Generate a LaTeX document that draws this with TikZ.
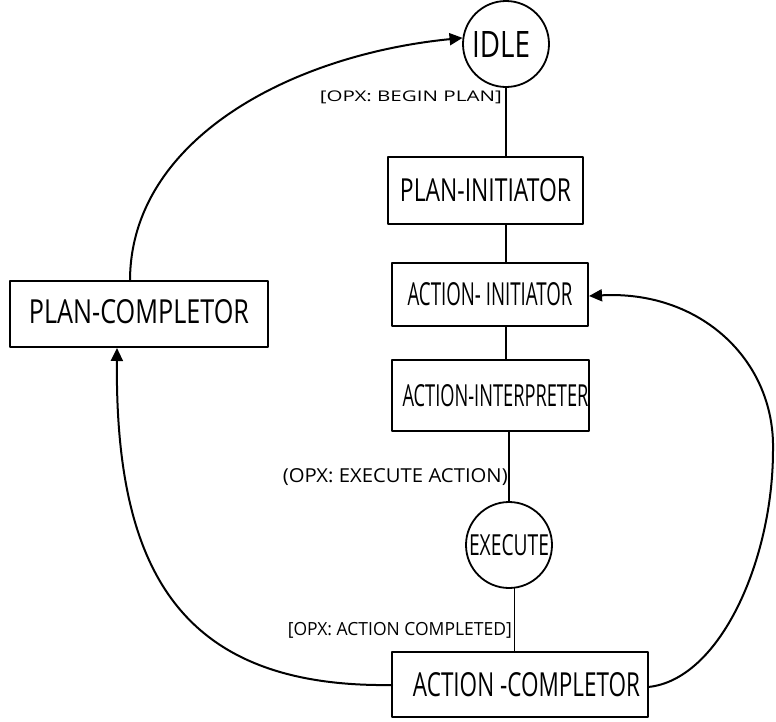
\documentclass[tikz,border=0pt]{standalone}
\usepackage{fontspec}
\usepackage{graphicx}
\setmainfont{Open Sans}
\usetikzlibrary{arrows.meta}
% text squeezed to a given width and cap height
\newcommand\capsbox[3]{\resizebox{#1pt}{#2pt}{#3}}
% text squeezed to a given width and total height (brackets included)
\newcommand\tagbox[3]{\resizebox*{#1pt}{#2pt}{#3}}
\begin{document}
\begin{tikzpicture}[x=1pt,y=-1pt,
  line cap=round, line join=round,
  stage/.style={draw, line width=1.8pt, inner sep=0pt},
  state/.style={draw, circle, line width=1.8pt, inner sep=0pt, minimum size=86pt},
  cond/.style={inner sep=0pt, anchor=east},
  link/.style={line width=1.7pt},
  flow/.style={line width=2pt, -{Triangle[length=13pt,width=12pt]}}]
\useasboundingbox (0,0) rectangle (776,721);

% states
\node[state] (idle) at (506,44) {\capsbox{58}{26}{IDLE}\hspace*{10pt}};
\node[state] (exec) at (509,545) {\capsbox{80}{21}{EXECUTE}};

% stages of the main column
\node[stage, minimum width=195pt, minimum height=67pt] (pinit) at (485.5,190.5)
  {\capsbox{171}{23}{PLAN-INITIATOR}};
\node[stage, minimum width=196pt, minimum height=63pt] (ainit) at (490,294.5)
  {\capsbox{165}{23}{ACTION- INITIATOR}};
\node[stage, minimum width=197pt, minimum height=71pt] (aint) at (490.5,395.5)
  {\hspace*{10pt}\capsbox{186}{22}{ACTION-INTERPRETER}};
\node[stage, minimum width=256pt, minimum height=65pt] (acomp) at (520,684.5)
  {\hspace*{13pt}\capsbox{227}{24}{ACTION -COMPLETOR}};
\node[stage, minimum width=258pt, minimum height=66pt] (pcomp) at (139,314)
  {\raisebox{5pt}{\capsbox{220}{24}{PLAN-COMPLETOR}}};

% conditions on the links
\node[cond] (c1) at (502,97) {\tagbox{182}{13}{[OPX: BEGIN PLAN]}};
\node[cond] (c2) at (508,477) {\tagbox{225}{17}{(OPX: EXECUTE ACTION)}};
\node[cond] (c3) at (512,630) {\tagbox{224}{16}{[OPX: ACTION COMPLETED]}};

% straight links of the column
\draw[link] (idle.south) -- (idle.south |- pinit.north);
\draw[link] (idle.south |- pinit.south) -- (idle.south |- ainit.north);
\draw[link] (idle.south |- ainit.south) -- (idle.south |- aint.north);
\draw[link] (exec.north |- aint.south) -- (exec.north);
\draw[link] (exec.-83.3) -- (exec.-83.3 |- acomp.north);

% return paths
\coordinate (pcTop) at (130,281);
\coordinate (pcBot) at (117,348);
\coordinate (acWest) at (392,685);
\coordinate (acEast) at (648,687);
\coordinate (aiEast) at (589,296);
\coordinate (rightBend) at (773,450);
\draw[flow] (pcTop) .. controls (130,140) and (290,55) .. (idle.172);
\draw[flow] (acWest) .. controls (180,688) and (115,570) .. (pcBot);
\draw[flow] (acEast) .. controls (720,680) and (773,560) .. (rightBend)
  .. controls (775,360) and (700,290) .. (aiEast);
\end{tikzpicture}
\end{document}
